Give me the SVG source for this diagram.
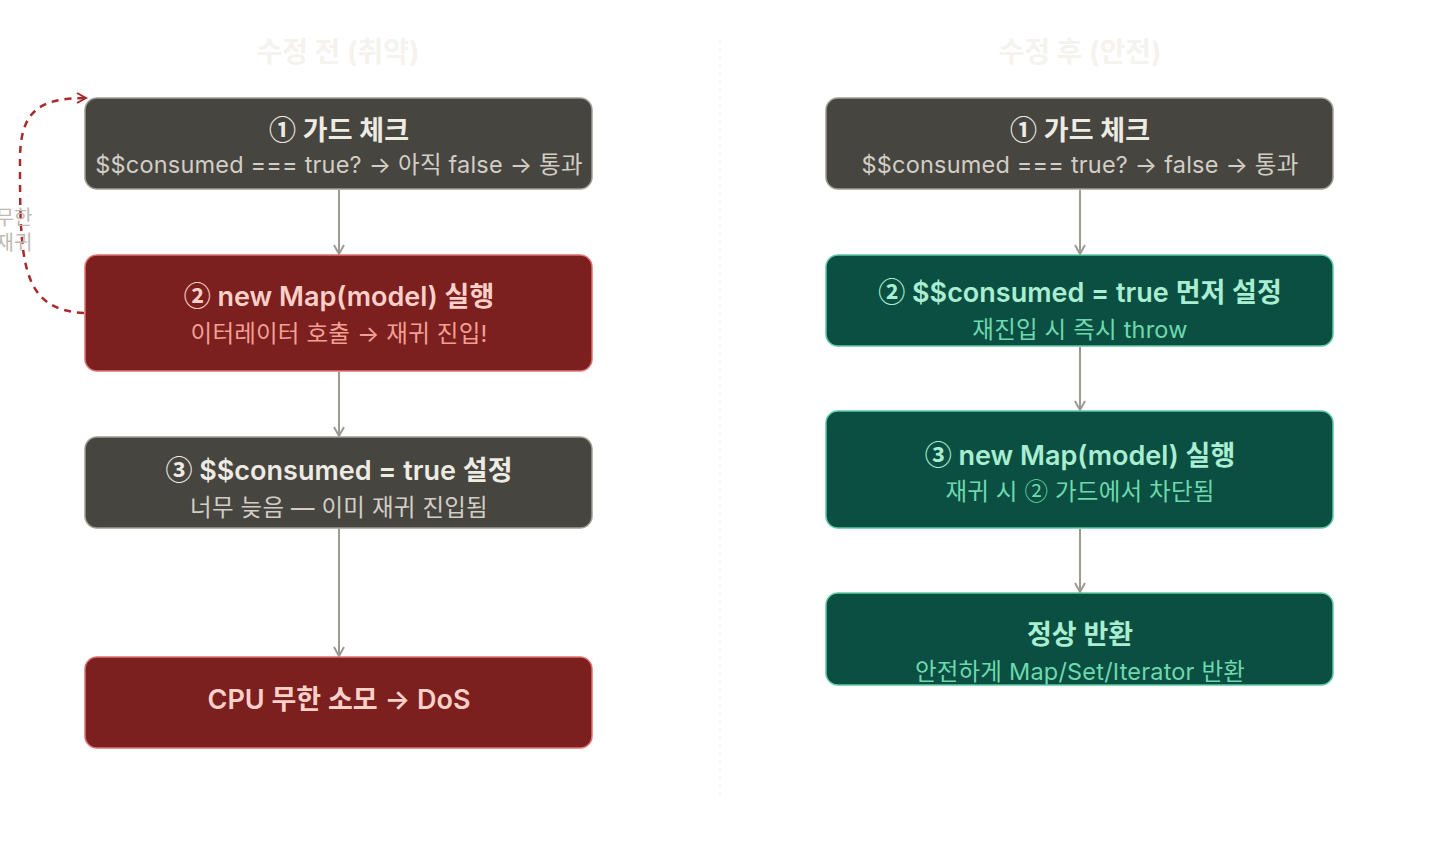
<svg xmlns="http://www.w3.org/2000/svg" width="1440" height="848" viewBox="0 0 1440 848">
<style>
text{font-family:Inter,"Noto Sans CJK KR",sans-serif;text-anchor:middle}
.n{font-family:"Noto Sans CJK KR",sans-serif}
.t{font-size:27px;font-weight:600}
.s{font-size:23.5px;letter-spacing:0.2px}
.dk rect{fill:#464540;stroke:#a09d94;stroke-width:1.5}
.dk .t{fill:#eeebe3}.dk .s{fill:#d2cec5}
.rd rect{fill:#7b1f1f;stroke:#e07272;stroke-width:1.5}
.rd .t{fill:#fbd0c8}.rd .s{fill:#f2a094}
.gr rect{fill:#0a4f41;stroke:#5ccaa0;stroke-width:1.5}
.gr .t{fill:#aaeed2}.gr .s{fill:#6fd8ae}
.ttl{font-size:28px;font-weight:700;fill:#f5f3ee}
.c{stroke:#9c9a93;stroke-width:2;fill:none;marker-end:url(#a)}
</style>
<defs>
<marker id="a" viewBox="0 0 12 12" refX="10" refY="6" markerWidth="12" markerHeight="12" markerUnits="userSpaceOnUse" orient="auto"><path d="M1,1 L10,6 L1,11" fill="none" stroke="#9c9a93" stroke-width="2"/></marker>
<marker id="r" viewBox="0 0 12 12" refX="10" refY="6" markerWidth="12" markerHeight="12" markerUnits="userSpaceOnUse" orient="auto"><path d="M1,1 L10,6 L1,11" fill="none" stroke="#a82a2a" stroke-width="2"/></marker>
</defs>
<rect width="1440" height="848" fill="#ffffff"/>
<line x1="720" y1="40" x2="720" y2="800" stroke="#f3f1ec" stroke-width="1" stroke-dasharray="4 4"/>
<text class="ttl" x="338" y="62">수정 전 (취약)</text>
<text class="ttl" x="1080" y="62">수정 후 (안전)</text>
<g id="connectors">
<path class="c" d="M339,190 V254"/>
<path class="c" d="M339,372 V436"/>
<path class="c" d="M339,529 V656"/>
<path class="c" d="M1080,190 V254"/>
<path class="c" d="M1080,347 V410"/>
<path class="c" d="M1080,529 V592"/>
<path d="M84,313 C20,310 20,260 20,160 C20,110 40,98 86,98" fill="none" stroke="#a82a2a" stroke-width="2.5" stroke-dasharray="7 6" marker-end="url(#r)"/>
<text x="14" y="225" style="font-size:20px;fill:#bdbab2">무한</text>
<text x="14" y="250" style="font-size:20px;fill:#bdbab2">재귀</text>
</g>
<g id="l1" class="dk"><rect x="85" y="98" width="507" height="91" rx="12"/><text class="t" x="339" y="140"><tspan class="n">①</tspan> 가드 체크</text><text class="s" x="339" y="173">$$consumed === true? → 아직 false → 통과</text></g>
<g id="l2" class="rd"><rect x="85" y="255" width="507" height="116" rx="12"/><text class="t" x="339" y="306"><tspan class="n">②</tspan> new Map(model) 실행</text><text class="s" x="339" y="342">이터레이터 호출 → 재귀 진입!</text></g>
<g id="l3" class="dk"><rect x="85" y="437" width="507" height="91" rx="12"/><text class="t" x="339" y="480"><tspan class="n">③</tspan> $$consumed = true 설정</text><text class="s" x="339" y="516">너무 늦음 — 이미 재귀 진입됨</text></g>
<g id="l4" class="rd"><rect x="85" y="657" width="507" height="91" rx="12"/><text class="t" x="339" y="709">CPU 무한 소모 → DoS</text></g>
<g id="r1" class="dk"><rect x="826" y="98" width="507" height="91" rx="12"/><text class="t" x="1080" y="140"><tspan class="n">①</tspan> 가드 체크</text><text class="s" x="1080" y="173">$$consumed === true? → false → 통과</text></g>
<g id="r2" class="gr"><rect x="826" y="255" width="507" height="91" rx="12"/><text class="t" x="1080" y="302"><tspan class="n">②</tspan> $$consumed = true 먼저 설정</text><text class="s" x="1080" y="338">재진입 시 즉시 throw</text></g>
<g id="r3" class="gr"><rect x="826" y="411" width="507" height="117" rx="12"/><text class="t" x="1080" y="465"><tspan class="n">③</tspan> new Map(model) 실행</text><text class="s" x="1080" y="500">재귀 시 <tspan class="n">②</tspan> 가드에서 차단됨</text></g>
<g id="r4" class="gr"><rect x="826" y="593" width="507" height="92" rx="12"/><text class="t" x="1080" y="644">정상 반환</text><text class="s" x="1080" y="680">안전하게 Map/Set/Iterator 반환</text></g>
</svg>
